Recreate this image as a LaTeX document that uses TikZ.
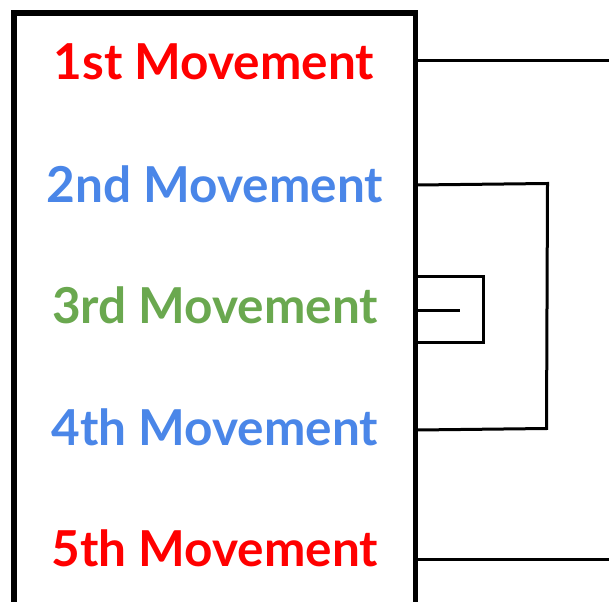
\documentclass[tikz,border=0pt]{standalone}
\usepackage{fontspec}
\setmainfont{Lato}
\definecolor{mred}{HTML}{FF0000}
\definecolor{mblue}{HTML}{4A86E8}
\definecolor{mgreen}{HTML}{6AA84F}
\begin{document}
\begin{tikzpicture}[x=1pt,y=-1pt,
  lbl/.style={font=\fontsize{49.5}{49.5}\selectfont\bfseries, inner sep=0pt, anchor=center},
  conn/.style={line width=3pt, line join=miter}]
\useasboundingbox (0,0) rectangle (609,601);
\begin{scope}
\clip (0,0) rectangle (609,601);
\draw[line width=5.5pt] (14,13) rectangle (415.5,620);
\end{scope}
\node[lbl, text=mred]   (m1) at (214,62) {1st Movement};
\node[lbl, text=mblue]  (m2) at (215,184) {2nd Movement};
\node[lbl, text=mgreen] (m3) at (215,305) {3rd Movement};
\node[lbl, text=mblue]  (m4) at (215,427) {4th Movement};
\node[lbl, text=mred]   (m5) at (215,548) {5th Movement};
\coordinate (e1) at (609,61);
\coordinate (e5) at (609,559);
\coordinate (b2) at (417,185);
\coordinate (b4) at (417,430);
\coordinate (c2) at (417,276);
\coordinate (c4) at (417,342);
\coordinate (d3) at (417,310);
\coordinate (d3e) at (460,310);
\draw[conn] (417,61) -- (e1);
\draw[conn] (417,559) -- (e5);
\draw[conn] (b2) -- (547.5,183.5) -- (546.5,428.5) -- (b4);
\draw[conn] (c2) -- (483,276) -- (483,342) -- (c4);
\draw[conn] (d3) -- (d3e);
\end{tikzpicture}
\end{document}
